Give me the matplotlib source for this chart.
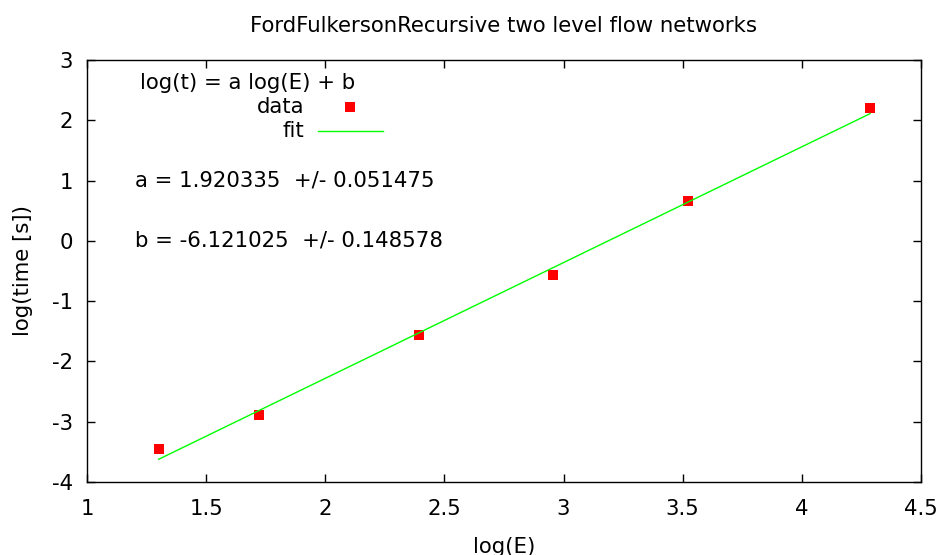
import matplotlib
matplotlib.use("Agg")
import matplotlib.pyplot as plt
import numpy as np

# data (log10 values)
log_E = [1.301, 1.722, 2.393, 2.956, 3.522, 4.286]
log_t = [-3.456, -2.89, -1.56, -0.565, 0.66, 2.21]
fit_a = 1.920335
fit_a_err = 0.051475
fit_b = -6.121025
fit_b_err = 0.148578
x_ticks = [1, 1.5, 2, 2.5, 3, 3.5, 4, 4.5]
y_ticks = [-4, -3, -2, -1, 0, 1, 2, 3]

FS = 15.3
plt.rcParams['font.family'] = ['DejaVu Sans']
fig = plt.figure(figsize=(9.4, 5.55), dpi=100)
ax = fig.add_axes([87/940, 1-482/555, (921-87)/940, (482-60)/555])

ax.plot(log_E, log_t, 's', color='#ff0000', markersize=7, markeredgewidth=0)
xf = np.array([min(log_E), max(log_E)])
ax.plot(xf, fit_a*xf + fit_b, '-', color='#00ff00', lw=1)

ax.set_xlim(1, 4.5)
ax.set_ylim(-4, 3)
ax.set_xticks(x_ticks)
ax.set_xticklabels([f"{v:g}" for v in x_ticks])
ax.set_yticks(y_ticks)
ax.set_yticklabels([f"{v:g}" for v in y_ticks])
ax.tick_params(direction='in', length=6, width=1, top=True, right=True, labelsize=FS)
ax.tick_params(axis='x', pad=12)
ax.tick_params(axis='y', pad=10)
for s in ax.spines.values():
    s.set_linewidth(1)

ax.set_title("FordFulkersonRecursive two level flow networks", fontsize=FS, pad=20)
ax.set_xlabel("log(E)", fontsize=FS, labelpad=13)
ax.set_ylabel("log(time [s])", fontsize=FS, labelpad=14)

# key
ax.text(0.192, 0.945, "log(t) = a log(E) + b", transform=ax.transAxes, ha='center', va='center', fontsize=FS)
ax.text(0.261, 0.889, "data", transform=ax.transAxes, ha='right', va='center', fontsize=FS)
ax.plot([0.315], [0.889], 's', color='#ff0000', markersize=7, markeredgewidth=0, transform=ax.transAxes)
ax.text(0.261, 0.832, "fit", transform=ax.transAxes, ha='right', va='center', fontsize=FS)
ax.plot([0.277, 0.355], [0.832, 0.832], '-', color='#00ff00', lw=1, transform=ax.transAxes)

ax.text(1.2, 1, f"a = {fit_a:.6f}  +/- {fit_a_err:.6f}", ha='left', va='center', fontsize=FS)
ax.text(1.2, 0, f"b = {fit_b:.6f}  +/- {fit_b_err:.6f}", ha='left', va='center', fontsize=FS)

fig.savefig("out.png", dpi=100)
